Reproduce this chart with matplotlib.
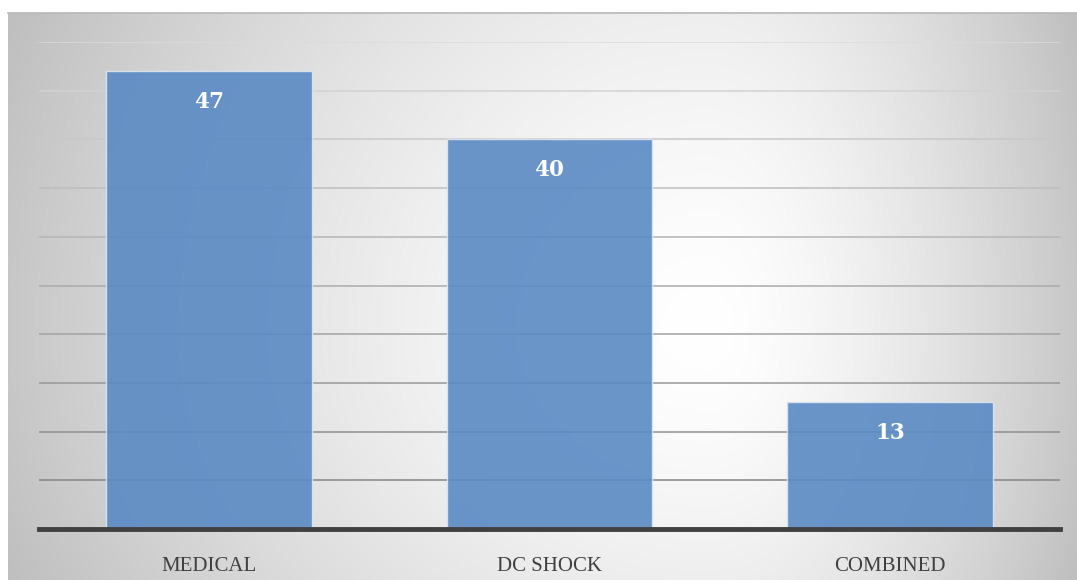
import numpy as np
import matplotlib
matplotlib.use("Agg")
import matplotlib.pyplot as plt

categories = ["MEDICAL", "DC SHOCK", "COMBINED"]
counts = [47, 40, 13]
grid_values = [5, 10, 15, 20, 25, 30, 35, 40, 45, 50]

W, H = 1077, 580


def radial_background(w: int, h: int, cx: float, cy: float) -> np.ndarray:
    xs = np.arange(w)
    ys = np.arange(h)
    gx, gy = np.meshgrid(xs, ys)
    u = np.where(gx < cx, (gx - cx) / cx, (gx - cx) / (w - cx))
    v = np.where(gy < cy, (gy - cy) / cy, (gy - cy) / (h - cy)) * 0.45
    r = np.clip(np.sqrt(u ** 2 + v ** 2), 0, 1.3)
    shade = 1.0 - 0.22 * r ** 1.5
    return np.dstack([shade, shade, shade])


def main() -> None:
    fig = plt.figure(figsize=(W / 100, H / 100), dpi=100)
    fig.patch.set_facecolor("white")

    # shaded chart area with a light centre
    bg_left, bg_top = 8, 13
    bg = fig.add_axes([bg_left / W, 0, (W - bg_left) / W, (H - bg_top) / H])
    bg.imshow(radial_background(W - bg_left, H - bg_top, 700, 320),
              aspect="auto", interpolation="bilinear")
    bg.axis("off")
    fig.add_artist(plt.Line2D([bg_left / W, 1], [(H - bg_top) / H] * 2,
                              color="#b8b8b8", lw=1.2))

    x0, x1, y_base, y_top = 39, 1060, 529, 42
    ax = fig.add_axes([x0 / W, (H - y_base) / H, (x1 - x0) / W, (y_base - y_top) / H])
    ax.set_facecolor("none")
    ax.set_xlim(-0.5, 2.5)
    ax.set_ylim(0, 50)

    # gridlines fade from light at the top to darker near the base
    greys = np.linspace(0.52, 0.86, len(grid_values))
    for val, g in zip(grid_values, greys):
        ax.axhline(val, color=(g, g, g), lw=1.1, zorder=1)

    x = np.arange(len(categories))
    ax.bar(x, counts, width=0.605, color="#5a8ac4", alpha=0.9,
           edgecolor="#dce6f2", linewidth=1.0, zorder=2)
    ax.axhline(0, color="#404040", lw=3.5, zorder=3, clip_on=False)

    for xi, c in zip(x, counts):
        ax.annotate(str(c), (xi, c), xytext=(0, -22), textcoords="offset points",
                    ha="center", va="center", color="white", fontsize=15.5,
                    fontweight="bold", family="DejaVu Serif", zorder=4)

    ax.set_xticks(x)
    ax.set_xticklabels(categories, family="Liberation Serif", fontsize=15,
                       color="#404040")
    ax.tick_params(axis="x", length=0, pad=20)
    ax.set_yticks([])
    for spine in ax.spines.values():
        spine.set_visible(False)

    fig.savefig("out.png", dpi=100)


if __name__ == "__main__":
    main()
